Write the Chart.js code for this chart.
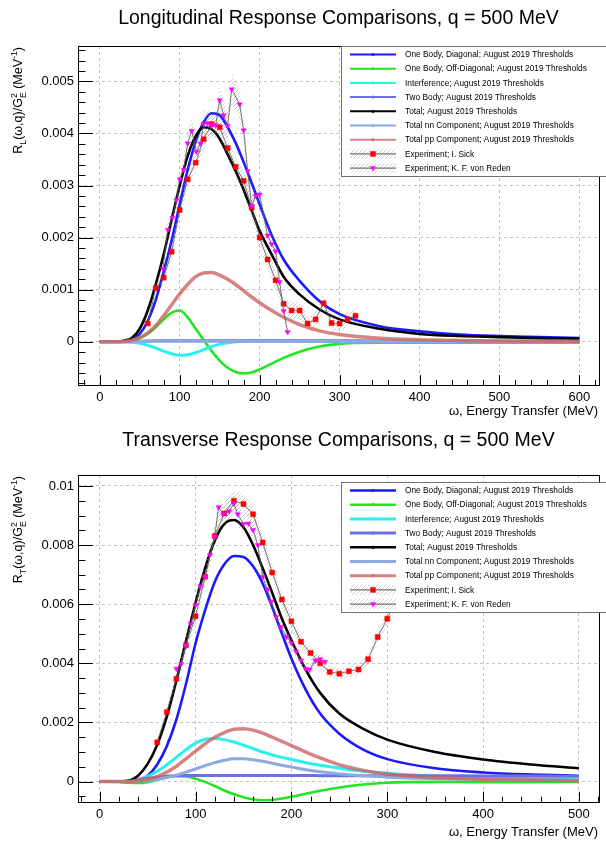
<!DOCTYPE html>
<html>
<head>
<meta charset="utf-8">
<script src="https://cdn.jsdelivr.net/npm/chart.js@4.4.1/dist/chart.umd.min.js"></script>
<style>
  html, body { margin: 0; padding: 0; background: #fff; }
  .pad { position: absolute; left: 0; width: 606px; height: 423px; }
  #padL { top: 0; }
  #padT { top: 423px; }
</style>
</head>
<body>
<div class="pad" id="padL"><canvas id="chartL" width="606" height="423"></canvas></div>
<div class="pad" id="padT"><canvas id="chartT" width="606" height="423"></canvas></div>
<script>
// all response values below are in units of 1e-3 MeV^-1
const UNIT = 1e-3;

// ---- longitudinal panel ----
const omegaL = [0, 20, 30, 40, 50, 60, 70, 80, 90, 100, 110, 120, 130, 140, 150, 160, 170, 180, 190, 200, 215, 230, 250, 275, 300, 350, 400, 450, 500, 550, 600];
const oneBodyDiagL = [0, 0, 0.01, 0.04, 0.15, 0.4, 0.8, 1.35, 1.95, 2.64, 3.3, 3.85, 4.22, 4.39, 4.35, 4.12, 3.82, 3.45, 3.05, 2.64, 2.05, 1.58, 1.17, 0.78, 0.53, 0.3, 0.2, 0.14, 0.11, 0.09, 0.07];
const oneBodyOffL = [0, 0, 0.01, 0.03, 0.07, 0.15, 0.28, 0.43, 0.56, 0.6, 0.47, 0.25, 0.03, -0.18, -0.36, -0.5, -0.58, -0.61, -0.59, -0.53, -0.42, -0.31, -0.19, -0.09, -0.04, -0.02, -0.02, -0.02, -0.02, -0.02, -0.02];
const interferenceL = [0, 0, 0, -0.01, -0.03, -0.07, -0.12, -0.18, -0.23, -0.26, -0.25, -0.21, -0.15, -0.09, -0.05, -0.02, 0, 0.01, 0.01, 0.01, 0.01, 0.01, 0.01, 0.005, 0, 0, 0, 0, 0, 0, 0];
const twoBodyL = [0, 0, 0, 0.005, 0.01, 0.015, 0.02, 0.02, 0.02, 0.02, 0.02, 0.02, 0.02, 0.02, 0.02, 0.02, 0.02, 0.02, 0.02, 0.02, 0.02, 0.02, 0.02, 0.02, 0.02, 0.015, 0.015, 0.01, 0.01, 0.01, 0.01];
const totalL = [0, 0, 0.02, 0.07, 0.25, 0.6, 1.1, 1.68, 2.35, 3.0, 3.57, 3.95, 4.12, 4.08, 3.9, 3.6, 3.28, 2.92, 2.52, 2.13, 1.68, 1.25, 0.91, 0.62, 0.43, 0.25, 0.15, 0.11, 0.09, 0.07, 0.06];
const nnL = [0, 0, 0, 0, 0.005, 0.01, 0.01, 0.01, 0.01, 0.01, 0.01, 0.01, 0.01, 0.01, 0.01, 0.01, 0.01, 0.01, 0.01, 0.01, 0.01, 0.01, 0.01, 0.01, 0.01, 0.005, 0.005, 0.005, 0.005, 0.005, 0.005];
const ppL = [0, 0, 0.01, 0.03, 0.08, 0.17, 0.31, 0.5, 0.71, 0.92, 1.1, 1.25, 1.32, 1.33, 1.28, 1.2, 1.1, 0.98, 0.86, 0.75, 0.6, 0.47, 0.33, 0.21, 0.14, 0.07, 0.04, 0.025, 0.015, 0.01, 0.01];

const sickOmegaL = [60, 70, 80, 90, 100, 110, 120, 130, 140, 150, 160, 170, 180, 190, 200, 210, 220, 230, 240, 250, 260, 270, 280, 290, 300, 310, 320];
const sickL = [0.35, 1.03, 1.23, 1.73, 2.53, 3.12, 3.44, 3.89, 4.18, 4.12, 3.72, 3.36, 3.09, 2.58, 2.0, 1.58, 1.18, 0.73, 0.6, 0.6, 0.35, 0.43, 0.74, 0.36, 0.35, 0.43, 0.5];
const sickErrL = [0.12, 0.15, 0.15, 0.18, 0.2, 0.2, 0.2, 0.22, 0.22, 0.22, 0.22, 0.2, 0.2, 0.2, 0.2, 0.18, 0.18, 0.16, 0.16, 0.16, 0.15, 0.15, 0.15, 0.15, 0.15, 0.15, 0.15];
const redenOmegaL = [79, 85, 91, 96, 100, 105, 110, 115, 121, 126, 130, 135, 140, 145, 150, 155, 160, 165, 175, 180, 185, 190, 195, 200, 210, 215, 220, 225, 230, 235];
const redenL = [1.40, 2.15, 2.38, 2.72, 3.12, 3.30, 3.81, 4.05, 3.65, 3.81, 4.18, 4.20, 4.16, 4.16, 4.64, 4.35, 4.15, 4.85, 4.56, 4.06, 3.28, 2.61, 2.80, 2.83, 2.04, 1.88, 1.74, 1.15, 0.59, 0.19];
const redenErrL = [0.15, 0.2, 0.2, 0.2, 0.22, 0.22, 0.25, 0.25, 0.25, 0.25, 0.25, 0.25, 0.25, 0.25, 0.28, 0.28, 0.28, 0.3, 0.3, 0.28, 0.25, 0.22, 0.22, 0.22, 0.2, 0.2, 0.2, 0.18, 0.15, 0.12];

const xTicksL = [0, 100, 200, 300, 400, 500, 600];
const yTicksL = [0, 1, 2, 3, 4, 5];

// ---- transverse panel ----
const omegaT = [0, 20, 30, 40, 50, 60, 70, 80, 90, 100, 110, 120, 130, 140, 150, 160, 170, 180, 190, 200, 215, 230, 250, 275, 300, 350, 400, 450, 500];
const oneBodyDiagT = [0, 0, 0.01, 0.05, 0.2, 0.58, 1.2, 2.1, 3.3, 4.68, 5.8, 6.75, 7.35, 7.63, 7.6, 7.28, 6.7, 5.9, 5.02, 4.16, 3.1, 2.3, 1.62, 1.08, 0.76, 0.45, 0.31, 0.24, 0.2];
const oneBodyOffT = [0, -0.01, -0.04, -0.05, -0.02, 0.06, 0.14, 0.19, 0.17, 0.1, -0.01, -0.15, -0.3, -0.43, -0.53, -0.6, -0.63, -0.62, -0.57, -0.51, -0.41, -0.31, -0.2, -0.1, -0.04, -0.01, -0.02, -0.02, -0.01];
const interferenceT = [0, 0, 0.02, 0.07, 0.18, 0.35, 0.57, 0.82, 1.08, 1.3, 1.43, 1.46, 1.42, 1.34, 1.23, 1.12, 1.0, 0.9, 0.82, 0.75, 0.64, 0.55, 0.45, 0.35, 0.28, 0.18, 0.13, 0.1, 0.08];
const twoBodyT = [0, 0, 0.02, 0.06, 0.11, 0.15, 0.18, 0.2, 0.21, 0.21, 0.21, 0.21, 0.21, 0.21, 0.21, 0.21, 0.21, 0.21, 0.21, 0.21, 0.21, 0.2, 0.2, 0.2, 0.2, 0.2, 0.19, 0.19, 0.18];
const totalT = [0, 0, 0.03, 0.2, 0.6, 1.25, 2.2, 3.42, 4.75, 6.05, 7.22, 8.15, 8.72, 8.85, 8.6, 8.0, 7.22, 6.38, 5.52, 4.78, 3.78, 3.0, 2.3, 1.78, 1.42, 1.0, 0.75, 0.58, 0.45];
const nnT = [0, 0, 0, 0.02, 0.04, 0.08, 0.14, 0.22, 0.32, 0.43, 0.54, 0.64, 0.72, 0.77, 0.77, 0.74, 0.69, 0.62, 0.55, 0.49, 0.4, 0.33, 0.26, 0.2, 0.15, 0.1, 0.07, 0.05, 0.04];
const ppT = [0, 0, 0.01, 0.03, 0.08, 0.17, 0.32, 0.52, 0.77, 1.03, 1.28, 1.5, 1.66, 1.77, 1.79, 1.74, 1.64, 1.5, 1.36, 1.22, 1.0, 0.8, 0.57, 0.38, 0.26, 0.14, 0.08, 0.05, 0.03];

const sickOmegaT = [60, 70, 80, 90, 100, 110, 120, 130, 140, 150, 160, 170, 180, 190, 200, 210, 220, 230, 240, 250, 260, 270, 280, 290, 300, 310, 320];
const sickT = [1.33, 2.35, 3.48, 4.61, 5.59, 6.93, 8.31, 9.07, 9.50, 9.39, 9.04, 8.09, 7.07, 6.16, 5.42, 4.73, 4.35, 4.0, 3.71, 3.65, 3.73, 3.79, 4.14, 4.89, 5.51, 6.2, 6.9];
const sickErrT = [0.15, 0.2, 0.25, 0.28, 0.3, 0.3, 0.32, 0.35, 0.35, 0.35, 0.35, 0.32, 0.3, 0.28, 0.26, 0.24, 0.22, 0.2, 0.2, 0.2, 0.2, 0.2, 0.22, 0.24, 0.26, 0.28, 0.3];
const redenOmegaT = [80, 85, 90, 95, 100, 105, 110, 115, 120, 124, 129, 135, 140, 144, 150, 155, 160, 165, 170, 175, 179, 184, 189, 195, 200, 205, 210, 215, 219, 225, 230, 235];
const redenT = [3.82, 3.98, 4.6, 5.34, 5.97, 6.61, 6.93, 7.66, 8.28, 9.28, 9.04, 9.14, 9.41, 9.04, 8.71, 8.73, 8.51, 8.0, 6.93, 6.5, 6.08, 5.57, 5.23, 4.9, 4.69, 4.4, 4.1, 3.82, 3.79, 4.1, 4.14, 4.05];
const redenErrT = [0.2, 0.22, 0.25, 0.27, 0.3, 0.3, 0.32, 0.33, 0.35, 0.36, 0.36, 0.36, 0.36, 0.36, 0.35, 0.35, 0.34, 0.33, 0.3, 0.3, 0.28, 0.27, 0.26, 0.25, 0.24, 0.23, 0.22, 0.21, 0.2, 0.2, 0.2, 0.2];

const xTicksT = [0, 100, 200, 300, 400, 500];
const yTicksT = [0, 2, 4, 6, 8, 10];

const legendLabels = [
  'One Body, Diagonal; August 2019 Thresholds',
  'One Body, Off-Diagonal; August 2019 Thresholds',
  'Interference; August 2019 Thresholds',
  'Two Body; August 2019 Thresholds',
  'Total; August 2019 Thresholds',
  'Total nn Component; August 2019 Thresholds',
  'Total pp Component; August 2019 Thresholds',
  'Experiment; I. Sick',
  'Experiment; K. F. von Reden'
];

// ---- styles ----
const FONT = '"Liberation Sans", Arial, Helvetica, sans-serif';
const theoryStyle = [
  { color: '#1a1aff', width: 2.6 },
  { color: '#22e622', width: 2.6 },
  { color: '#2af0f0', width: 3 },
  { color: '#6e6ee6', width: 3 },
  { color: '#000000', width: 2.6 },
  { color: '#8ea8e0', width: 3 },
  { color: 'rgba(205,100,100,0.8)', width: 3.5 }
];
const expStyle = [
  { style: 'rect', radius: 3.5, rotation: 0, color: '#ff0000' },
  { style: 'triangle', radius: 3, rotation: 180, color: '#ff00ff' }
];

function makeHatch() {
  const tile = document.createElement('canvas');
  tile.width = 4; tile.height = 4;
  const g = tile.getContext('2d');
  g.strokeStyle = 'rgba(130,130,130,0.5)';
  g.lineWidth = 0.7;
  g.beginPath();
  g.moveTo(0, 4); g.lineTo(4, 0);
  g.moveTo(-1, 1); g.lineTo(1, -1);
  g.moveTo(3, 5); g.lineTo(5, 3);
  g.stroke();
  return document.createElement('canvas').getContext('2d').createPattern(tile, 'repeat');
}
const HATCH = makeHatch();

function series(xs, vs) { return xs.map((x, i) => ({ x: x, y: vs[i] * UNIT })); }
function edge(xs, vs, es, sign) { return xs.map((x, i) => ({ x: x, y: (vs[i] + sign * es[i]) * UNIT })); }

function drawRuns(ctx, runs, size) {
  // runs laid out along +x starting at 0
  let x = 0;
  runs.forEach(r => {
    if (r.sub || r.sup) {
      let w = 0;
      ctx.font = `${size * 0.7}px ${FONT}`;
      if (r.sub) { ctx.fillText(r.sub, x, size * 0.3); w = Math.max(w, ctx.measureText(r.sub).width); }
      if (r.sup) { ctx.fillText(r.sup, x, -size * 0.42); w = Math.max(w, ctx.measureText(r.sup).width); }
      x += w;
    } else {
      ctx.font = `${size}px ${FONT}`;
      ctx.fillText(r.t, x, 0);
      x += ctx.measureText(r.t).width;
    }
  });
  return x;
}
function runsWidth(ctx, runs, size) {
  let x = 0;
  runs.forEach(r => {
    if (r.sub || r.sup) {
      ctx.font = `${size * 0.7}px ${FONT}`;
      x += Math.max(r.sub ? ctx.measureText(r.sub).width : 0, r.sup ? ctx.measureText(r.sup).width : 0);
    } else {
      ctx.font = `${size}px ${FONT}`;
      x += ctx.measureText(r.t).width;
    }
  });
  return x;
}

function rootPlugin(cfg) {
  return {
    id: 'rootStyle',
    afterDraw(chart) {
      const ctx = chart.ctx, a = chart.chartArea;
      const xs = chart.scales.x, ys = chart.scales.y;
      ctx.save();
      // inner tick marks (ROOT style)
      ctx.strokeStyle = '#000';
      ctx.lineWidth = 1;
      ctx.beginPath();
      const mx = cfg.xMajor / cfg.xSub;
      for (let k = Math.ceil(xs.min / mx); k * mx <= xs.max; k++) {
        const px = Math.round(xs.getPixelForValue(k * mx)) + 0.5;
        const len = k % cfg.xSub === 0 ? cfg.xTickLen : cfg.xTickLen / 2;
        ctx.moveTo(px, a.bottom); ctx.lineTo(px, a.bottom - len);
      }
      const my = cfg.yMajor / cfg.ySub;
      for (let k = Math.ceil(ys.min / my); k * my <= ys.max; k++) {
        const py = Math.round(ys.getPixelForValue(k * my)) + 0.5;
        const len = k % cfg.ySub === 0 ? cfg.yTickLen : cfg.yTickLen / 2;
        ctx.moveTo(a.left, py); ctx.lineTo(a.left + len, py);
      }
      ctx.stroke();
      ctx.strokeRect(Math.round(a.left) + 0.5, Math.round(a.top) + 0.5, Math.round(a.right - a.left), Math.round(a.bottom - a.top));

      // title
      ctx.fillStyle = '#000';
      ctx.textBaseline = 'middle';
      ctx.textAlign = 'center';
      ctx.font = `${cfg.titleSize}px ${FONT}`;
      ctx.fillText(cfg.title, (a.left + a.right) / 2, cfg.titleY);

      // x axis title
      ctx.textAlign = 'right';
      ctx.font = `13px ${FONT}`;
      ctx.fillText('\u03c9, Energy Transfer (MeV)', a.right - 1, cfg.xTitleY);

      // y axis title with sub/superscripts
      ctx.textAlign = 'left';
      ctx.textBaseline = 'alphabetic';
      const w = runsWidth(ctx, cfg.yTitle, 12.5);
      ctx.save();
      ctx.translate(cfg.yTitleX, a.top + 1);
      ctx.rotate(-Math.PI / 2);
      ctx.translate(-w, 0);
      drawRuns(ctx, cfg.yTitle, 12.5);
      ctx.restore();

      // legend box
      const L = cfg.legend;
      ctx.fillStyle = '#fff';
      ctx.fillRect(L.x, L.y, L.w, L.h);
      ctx.strokeStyle = '#707070';
      ctx.strokeRect(L.x + 0.5, L.y + 0.5, L.w, L.h);
      ctx.font = `${L.font}px ${FONT}`;
      ctx.textBaseline = 'middle';
      legendLabels.forEach((text, i) => {
        const y = L.row0 + i * L.step;
        const x1 = L.x + 9, x2 = L.x + 55, xm = (x1 + x2) / 2;
        if (i < theoryStyle.length) {
          const st = theoryStyle[i];
          ctx.strokeStyle = st.color;
          ctx.lineWidth = Math.min(st.width, L.lineMax);
          ctx.beginPath(); ctx.moveTo(x1, y); ctx.lineTo(x2, y); ctx.stroke();
          ctx.fillStyle = st.color;
          ctx.beginPath(); ctx.arc(xm, y, 1.6, 0, Math.PI * 2); ctx.fill();
        } else {
          const es = expStyle[i - theoryStyle.length];
          ctx.fillStyle = HATCH;
          ctx.fillRect(x1, y - 5, x2 - x1, 10);
          ctx.strokeStyle = '#555';
          ctx.lineWidth = 1;
          ctx.beginPath(); ctx.moveTo(x1, y); ctx.lineTo(x2, y); ctx.stroke();
          ctx.fillStyle = es.color; ctx.strokeStyle = es.color; ctx.lineWidth = 0.5;
          Chart.helpers.drawPoint(ctx, { pointStyle: es.style, radius: es.radius, rotation: es.rotation, borderWidth: 0.5 }, xm, y);
        }
        ctx.fillStyle = '#000';
        ctx.fillText(text, L.x + 64, y + 0.5);
      });
      ctx.restore();
    }
  };
}

function buildPanel(cfg) {
  const datasets = [];
  cfg.theory.forEach((vals, k) => {
    const st = theoryStyle[k];
    datasets.push({
      label: legendLabels[k],
      data: series(cfg.omega, vals),
      borderColor: st.color,
      borderWidth: st.width,
      pointRadius: 0,
      cubicInterpolationMode: 'monotone',
      fill: false,
      order: 100 - k
    });
  });
  cfg.exp.forEach((e, k) => {
    const st = expStyle[k];
    const ord = 50 - 10 * k;
    datasets.push({ data: edge(e.x, e.v, e.err, 1), borderWidth: 0, pointRadius: 0, fill: '+1', backgroundColor: HATCH, order: ord });
    datasets.push({ data: edge(e.x, e.v, e.err, -1), borderWidth: 0, pointRadius: 0, fill: false, order: ord });
    datasets.push({
      label: legendLabels[theoryStyle.length + k],
      data: series(e.x, e.v),
      borderColor: '#555',
      borderWidth: 0.8,
      pointStyle: st.style,
      pointRadius: st.radius,
      pointRotation: st.rotation,
      pointBackgroundColor: st.color,
      pointBorderColor: st.color,
      pointBorderWidth: 0.5,
      fill: false,
      order: ord - 5
    });
  });

  return new Chart(document.getElementById(cfg.canvas), {
    type: 'line',
    data: { datasets: datasets },
    options: {
      responsive: false,
      animation: false,
      devicePixelRatio: 1,
      layout: { padding: { left: 0, top: cfg.top, right: 606 - cfg.right, bottom: 0 } },
      plugins: { legend: { display: false }, tooltip: { enabled: false }, title: { display: false } },
      scales: {
        x: {
          type: 'linear',
          min: cfg.xMin, max: cfg.xMax,
          afterBuildTicks: s => { s.ticks = cfg.xTicks.map(v => ({ value: v })); },
          afterFit: s => { s.height = 423 - cfg.bottom; },
          ticks: { color: '#000', font: { family: FONT, size: 13 }, padding: 5, maxRotation: 0, autoSkip: false, callback: v => String(v) },
          grid: { color: '#c4c4c4', lineWidth: 1, drawTicks: false },
          border: { display: false, dash: [3, 3] }
        },
        y: {
          type: 'linear',
          min: cfg.yMin, max: cfg.yMax,
          afterBuildTicks: s => { s.ticks = cfg.yTicks.map(v => ({ value: v * UNIT })); },
          afterFit: s => { s.width = cfg.left; },
          ticks: { color: '#000', font: { family: FONT, size: 13 }, padding: 4, autoSkip: false, callback: v => (Math.abs(v) < 1e-12 ? '0' : String(parseFloat(v.toFixed(4)))) },
          grid: { color: '#c4c4c4', lineWidth: 1, drawTicks: false },
          border: { display: false, dash: [3, 3] }
        }
      }
    },
    plugins: [rootPlugin(cfg)]
  });
}

buildPanel({
  canvas: 'chartL',
  title: 'Longitudinal Response Comparisons, q = 500 MeV',
  titleSize: 19.5, titleY: 19,
  left: 78, right: 599, top: 46, bottom: 385,
  xMin: -27.2, xMax: 624.5, yMin: -0.00083, yMax: 0.00568,
  xTicks: xTicksL, yTicks: yTicksL,
  xMajor: 100, xSub: 5, yMajor: 0.001, ySub: 5, xTickLen: 10, yTickLen: 15,
  xTitleY: 411, yTitleX: 22,
  yTitle: [{ t: 'R' }, { sub: 'L' }, { t: '(\u03c9,q)/G' }, { sub: 'E', sup: '2' }, { t: ' (MeV' }, { sup: '-1' }, { t: ')' }],
  legend: { x: 341, y: 46, w: 270, h: 130, row0: 54.5, step: 14.2, font: 8.3, lineMax: 2 },
  omega: omegaL,
  theory: [oneBodyDiagL, oneBodyOffL, interferenceL, twoBodyL, totalL, nnL, ppL],
  exp: [
    { x: sickOmegaL, v: sickL, err: sickErrL },
    { x: redenOmegaL, v: redenL, err: redenErrL }
  ]
});

buildPanel({
  canvas: 'chartT',
  title: 'Transverse Response Comparisons, q = 500 MeV',
  titleSize: 19.5, titleY: 18,
  left: 78, right: 599, top: 52, bottom: 378.7,
  xMin: -22.65, xMax: 520.9, yMin: -0.00068, yMax: 0.01037,
  xTicks: xTicksT, yTicks: yTicksT,
  xMajor: 100, xSub: 5, yMajor: 0.002, ySub: 4, xTickLen: 10, yTickLen: 15,
  xTitleY: 409, yTitleX: 22,
  yTitle: [{ t: 'R' }, { sub: 'T' }, { t: '(\u03c9,q)/G' }, { sub: 'E', sup: '2' }, { t: ' (MeV' }, { sup: '-1' }, { t: ')' }],
  legend: { x: 341, y: 59, w: 270, h: 130, row0: 67.5, step: 14.2, font: 8.3, lineMax: 3 },
  omega: omegaT,
  theory: [oneBodyDiagT, oneBodyOffT, interferenceT, twoBodyT, totalT, nnT, ppT],
  exp: [
    { x: sickOmegaT, v: sickT, err: sickErrT },
    { x: redenOmegaT, v: redenT, err: redenErrT }
  ]
});
</script>
</body>
</html>
